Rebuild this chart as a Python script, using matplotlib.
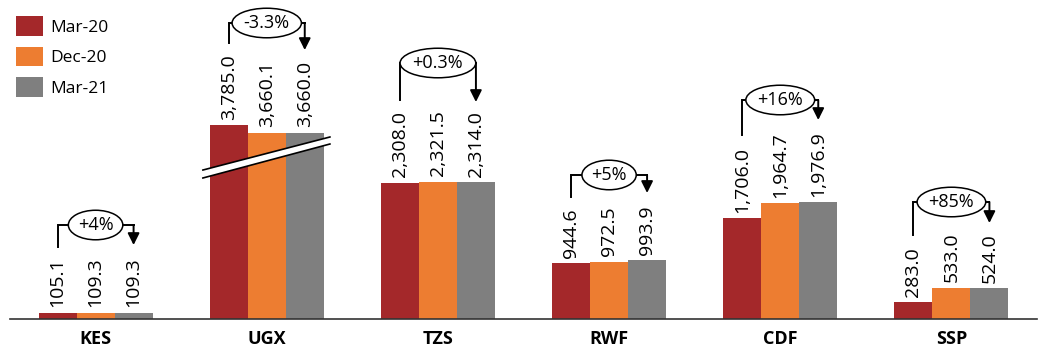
import matplotlib.pyplot as plt
from matplotlib.patches import Polygon
import numpy as np

plt.rcParams['font.family'] = ['Open Sans', 'DejaVu Sans']

currencies = ['KES', 'UGX', 'TZS', 'RWF', 'CDF', 'SSP']
periods = ['Mar-20', 'Dec-20', 'Mar-21']
mar20 = [105.1, 3785.0, 2308.0, 944.6, 1706.0, 283.0]
dec20 = [109.3, 3660.1, 2321.5, 972.5, 1964.7, 533.0]
mar21 = [109.3, 3660.0, 2314.0, 993.9, 1976.9, 524.0]
changes = ['+4%', '-3.3%', '+0.3%', '+5%', '+16%', '+85%']

colors = ['#A4282A', '#ED7D31', '#7F7F7F']

# UGX is drawn on a cut axis
ugx_cut = 500

# bracket geometry (data units): start of left leg, horizontal level, arrow tip
bracket_start = [1220, 4678, 3712, 2068, 3119, 1424]
bracket_level = [1593, 5017, 4339, 2441, 3712, 1983]
bracket_tip = [1254, 4559, 3678, 2136, 3373, 1627]

fig = plt.figure(figsize=(10.41, 3.51), dpi=100)
ax = fig.add_axes([10 / 1041, 32 / 351, 1027 / 1041, 319 / 351])

x = np.arange(len(currencies))
w = 0.222
series = [mar20, dec20, mar21]
for i, vals in enumerate(series):
    vals = np.array(vals)
    heights = vals.copy()
    heights[1] = vals[1] - ugx_cut
    xs = x + (i - 1) * w
    ax.bar(xs, heights, width=w, color=colors[i], label=periods[i], zorder=2)
    for xi, h, v in zip(xs, heights, vals):
        ax.annotate(f'{v:,.1f}', (xi, h), xytext=(0, 4), textcoords='offset points',
                    rotation=90, ha='center', va='bottom', fontsize=14)

# brackets with change labels
for k in range(len(currencies)):
    xl = x[k] - w
    xr = x[k] + w
    ax.plot([xl, xl, xr], [bracket_start[k], bracket_level[k], bracket_level[k]],
            color='black', lw=1.4, zorder=3, solid_joinstyle='miter')
    ax.annotate('', xy=(xr, bracket_tip[k]), xytext=(xr, bracket_level[k]),
                arrowprops=dict(arrowstyle='-|>,head_length=0.7,head_width=0.35',
                                color='black', lw=1.4, shrinkA=0, shrinkB=0),
                zorder=3)
    ax.text(x[k], bracket_level[k], changes[k], ha='center', va='center',
            fontsize=13, zorder=4,
            bbox=dict(boxstyle='ellipse,pad=0.08', fc='white', ec='black', lw=1.1))

# axis break on UGX
bx = [0.627, 1.369]
upper = [2525, 3085]
lower = [2390, 2966]
ax.add_patch(Polygon([[bx[0], upper[0]], [bx[1], upper[1]], [bx[1], lower[1]], [bx[0], lower[0]]],
                     closed=True, fc='white', ec='none', zorder=5))
ax.plot(bx, upper, color='black', lw=1.2, zorder=6)
ax.plot(bx, lower, color='black', lw=1.2, zorder=6)

ax.set_xlim(-0.5, 5.5)
ax.set_ylim(0, 5407)
ax.set_xticks(x)
ax.set_xticklabels(currencies, fontsize=13, fontweight='bold')
ax.tick_params(axis='x', length=0, pad=8)
ax.set_yticks([])
for s in ['top', 'right', 'left']:
    ax.spines[s].set_visible(False)
ax.spines['bottom'].set_color('#333333')
ax.spines['bottom'].set_linewidth(1.2)

ax.legend(loc='upper left', bbox_to_anchor=(0, 1.0), bbox_transform=fig.transFigure,
          frameon=False, fontsize=12.5, handlelength=1.5, handleheight=1.35,
          handletextpad=0.45, labelspacing=0.62, borderaxespad=0.55)

fig.savefig('out.png', dpi=100)
